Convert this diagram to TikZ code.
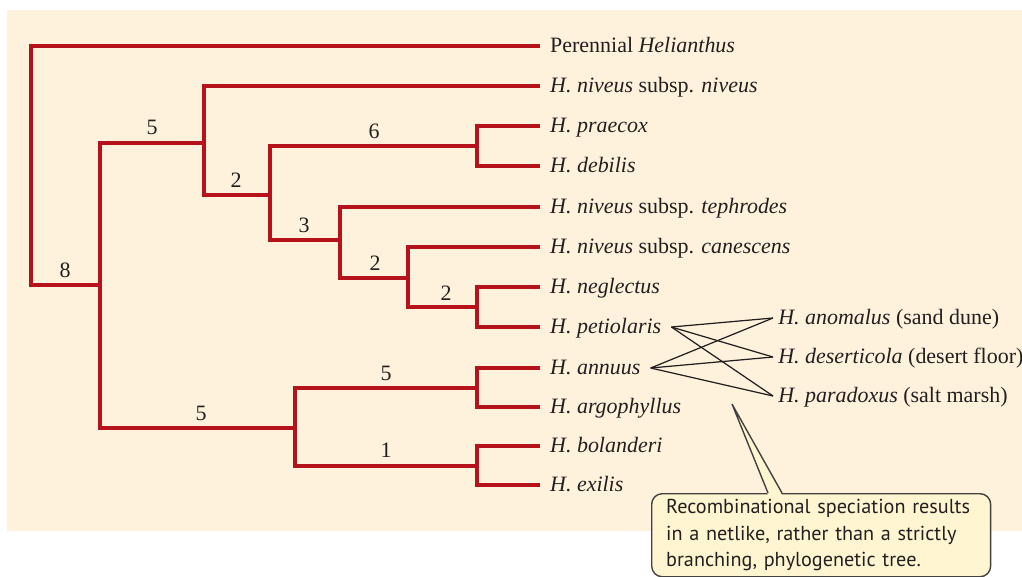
\documentclass[tikz,border=0pt]{standalone}
\usepackage{fontspec}
\setmainfont{Liberation Serif}
\newfontfamily\notefont{PT Sans}
\usetikzlibrary{calc}
\definecolor{bgcol}{RGB}{254,242,220}
\definecolor{treecol}{RGB}{181,18,27}
\definecolor{notecol}{RGB}{255,245,208}
\definecolor{inkcol}{RGB}{35,31,32}
\tikzset{
  branch/.style={draw=treecol, line width=2.3pt, line join=miter},
  leaf/.style={anchor=west, inner xsep=5.6pt, inner ysep=0pt, text height=1.7ex, text depth=0pt, font=\fontsize{12.5}{15}\selectfont, text=inkcol},
  hyb/.style={leaf, inner xsep=2.8pt},
  num/.style={font=\fontsize{12.5}{15}\selectfont, text=inkcol, inner sep=0pt},
  cross/.style={draw=inkcol, line width=0.7pt},
  note/.style={draw=inkcol!85, fill=notecol, rounded corners=6pt, line width=0.8pt, align=left, font=\notefont\fontsize{11.5}{15}\selectfont, text width=6.2cm, inner xsep=0.29cm, minimum height=1.64cm, anchor=north west, text=inkcol},
}
\begin{document}
\begin{tikzpicture}[x=0.02cm, y=-0.02cm]
  \useasboundingbox (0,0) rectangle (1022,576);
  \fill[bgcol] (7,10) rectangle (1022,531);
  % taxa
  \node[leaf] (per) at (540,46) {Perennial \emph{Helianthus}};
  \node[leaf] (nivn) at (540,86) {\emph{H. niveus} subsp. \emph{niveus}};
  \node[leaf] (prae) at (540,126) {\emph{H. praecox}};
  \node[leaf] (debi) at (540,166) {\emph{H. debilis}};
  \node[leaf] (teph) at (540,207) {\emph{H. niveus} subsp. \emph{tephrodes}};
  \node[leaf] (cane) at (540,247) {\emph{H. niveus} subsp. \emph{canescens}};
  \node[leaf] (negl) at (540,287) {\emph{H. neglectus}};
  \node[leaf] (peti) at (540,327) {\emph{H. petiolaris}};
  \node[leaf] (annu) at (540,368) {\emph{H. annuus}};
  \node[leaf] (argo) at (540,407) {\emph{H. argophyllus}};
  \node[leaf] (bola) at (540,446) {\emph{H. bolanderi}};
  \node[leaf] (exil) at (540,485) {\emph{H. exilis}};
  \node[hyb] (anom) at (773,318) {\emph{H. anomalus} (sand dune)};
  \node[hyb] (dese) at (773,357) {\emph{H. deserticola} (desert floor)};
  \node[hyb] (para) at (773,396) {\emph{H. paradoxus} (salt marsh)};
  % tree
  \coordinate (r) at (31,285); \coordinate (a) at (100,285); \coordinate (b) at (204,143);
  \coordinate (c) at (270,195); \coordinate (d) at (477,146); \coordinate (e) at (340,240);
  \coordinate (f) at (408,278); \coordinate (g) at (477,307); \coordinate (h) at (295,428);
  \coordinate (i) at (477,388); \coordinate (j) at (477,466);
  \draw[branch] (per.west) -| (r) |- (a); \draw[branch] (b) -| (a) |- (h);
  \draw[branch] (nivn.west) -| (b) |- (c); \draw[branch] (d) -| (c) |- (e);
  \draw[branch] (prae.west) -| (d) |- (debi.west); \draw[branch] (teph.west) -| (e) |- (f);
  \draw[branch] (cane.west) -| (f) |- (g); \draw[branch] (negl.west) -| (g) |- (peti.west);
  \draw[branch] (i) -| (h) |- (j); \draw[branch] (annu.west) -| (i) |- (argo.west);
  \draw[branch] (bola.west) -| (j) |- (exil.west);
  \node[num] (n8) at (65,270) {8}; \node[num] (n5a) at (152,127) {5};
  \node[num] (n5b) at (201,413) {5}; \node[num] (n2a) at (236,180) {2};
  \node[num] (n6) at (374,131) {6}; \node[num] (n3) at (304,225) {3};
  \node[num] (n2b) at (375,263) {2}; \node[num] (n2c) at (446,293) {2};
  \node[num] (n5c) at (386,373) {5}; \node[num] (n1) at (386,450) {1};
  % hybrid origins
  \foreach \p in {peti,annu} \foreach \h in {anom,dese,para} \draw[cross] (\p.east) -- (\h.west);
  % callout
  \node[note] (note) at (651,493) {Recombinational speciation results\\ in a netlike, rather than a strictly\\ branching, phylogenetic tree.};
  \coordinate (tip) at (732,404);
  \fill[notecol] ($(note.north west)+(117,2)$) -- (tip) -- ($(note.north west)+(131,2)$) -- cycle;
  \draw[draw=inkcol!85, line width=0.8pt] ($(note.north west)+(117,0)$) -- (tip) -- ($(note.north west)+(131,0)$);
\end{tikzpicture}
\end{document}
